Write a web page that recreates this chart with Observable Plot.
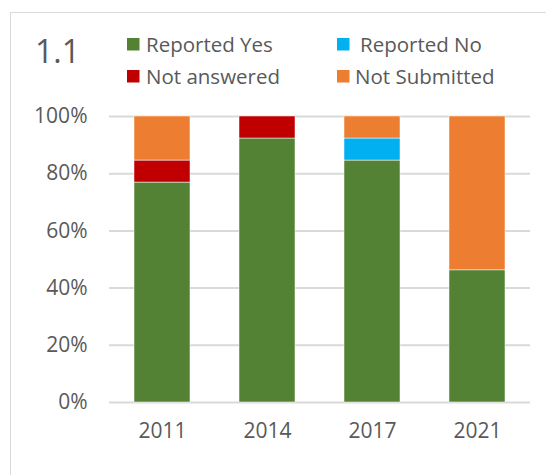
<!DOCTYPE html>
<html>
<head>
<meta charset="utf-8">
<script src="https://cdn.jsdelivr.net/npm/d3@7"></script>
<script src="https://cdn.jsdelivr.net/npm/@observablehq/plot@0.6"></script>
<style>
  html, body { margin: 0; padding: 0; background: #fff; width: 546px; height: 475px; overflow: hidden; }
  #frame { position: absolute; left: 10px; top: 12px; width: 600px; height: 600px; border: 1.5px solid #d9d9d9; box-sizing: border-box; }
  #chart { position: absolute; left: 0; top: 0; }
  #header { position: absolute; left: 0; top: 0; }
</style>
</head>
<body>
<div id="frame"></div>
<div id="chart"></div>
<svg id="header" width="546" height="100"></svg>
<script>
const title = "1.1";
const years = ["2011", "2014", "2017", "2021"];
const series = ["Reported Yes", "Reported No", "Not answered", "Not Submitted"];
const colors = ["#548235", "#00B0F0", "#C00000", "#ED7D31"];
const reportedYes  = [76.9, 92.3, 84.6, 46.2];
const reportedNo   = [0, 0, 7.7, 0];
const notAnswered  = [7.7, 7.7, 0, 0];
const notSubmitted = [15.4, 0, 7.7, 53.8];
const yTicks = [0, 20, 40, 60, 80, 100];

const valuesBySeries = [reportedYes, reportedNo, notAnswered, notSubmitted];
const data = [];
series.forEach((s, si) => {
  years.forEach((y, yi) => {
    data.push({year: y, series: s, value: valuesBySeries[si][yi]});
  });
});

const font = "'Open Sans', sans-serif";
const textColor = "#595959";

const chart = Plot.plot({
  width: 546,
  height: 475,
  marginLeft: 109,
  marginRight: 16,
  marginTop: 116,
  marginBottom: 73,
  style: {fontFamily: font, fontSize: "21px", color: textColor, background: "transparent", overflow: "visible"},
  x: {domain: years, paddingInner: 0.47, paddingOuter: 0.235, label: null, tickSize: 0, tickPadding: 21},
  y: {domain: [0, 100], ticks: yTicks, tickFormat: d => d + "%", label: null, tickSize: 0, tickPadding: 22},
  color: {domain: series, range: colors},
  marks: [
    Plot.gridY(yTicks, {stroke: "#d9d9d9", strokeOpacity: 1, strokeWidth: 2}),
    Plot.barY(data, {x: "year", y: "value", fill: "series", order: series, stroke: "#fff", strokeWidth: 0.5})
  ]
});
document.getElementById("chart").appendChild(chart);

// Header: title + legend
const header = d3.select("#header");
header.append("text")
  .attr("x", 35).attr("y", 63)
  .attr("font-family", font).attr("font-size", 32).attr("fill", textColor)
  .text(title);

const legendCols = [{sx: 127, tx: 146}, {sx: 337, tx: 355}];
const legendRows = [{sy: 38, ty: 52}, {sy: 70, ty: 83.5}];
series.forEach((s, i) => {
  const c = legendCols[i % 2], r = legendRows[Math.floor(i / 2)];
  header.append("rect").attr("x", c.sx).attr("y", r.sy).attr("width", 12.5).attr("height", 12.5).attr("fill", colors[i]);
  header.append("text")
    .attr("x", c.tx + (s === "Reported No" ? 5 : 0)).attr("y", r.ty)
    .attr("font-family", font).attr("font-size", 20.5).attr("fill", textColor)
    .text(s);
});
</script>
</body>
</html>
